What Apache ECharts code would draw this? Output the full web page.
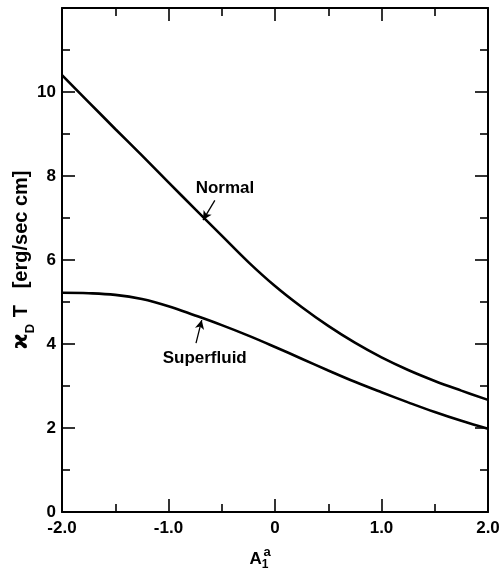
<!DOCTYPE html>
<html>
<head>
<meta charset="utf-8">
<script src="https://cdn.jsdelivr.net/npm/echarts@6/dist/echarts.min.js"></script>
<style>html,body{margin:0;padding:0;background:#fff;}#c{width:502px;height:571px;}</style>
</head>
<body>
<div id="c"></div>
<script>
// ---- data ----
const xValues      = [-2.0, -1.75, -1.5, -1.25, -1.0, -0.75, -0.5, -0.25, 0.0, 0.25, 0.5, 0.75, 1.0, 1.25, 1.5, 1.75, 2.0];
const normalVals   = [10.40, 9.76, 9.12, 8.49, 7.85, 7.21, 6.58, 5.95, 5.38, 4.88, 4.43, 4.03, 3.68, 3.38, 3.12, 2.89, 2.67];
const superVals    = [5.22, 5.21, 5.17, 5.07, 4.90, 4.68, 4.45, 4.20, 3.93, 3.65, 3.37, 3.10, 2.85, 2.61, 2.38, 2.17, 1.98];
const xTickLabels  = {'-2': '-2.0', '-1': '-1.0', '0': '0', '1': '1.0', '2': '2.0'};
const yTickLabels  = {'0': '0', '2': '2', '4': '4', '6': '6', '8': '8', '10': '10'};
// annotation anchors in data coordinates: [label pos, arrow tail, arrow tip]
const normalNote   = {text: 'Normal',     label: [-0.47, 7.71], tail: [-0.565, 7.42], tip: [-0.676, 6.95]};
const superNote    = {text: 'Superfluid', label: [-0.66, 3.66], tail: [-0.742, 4.02], tip: [-0.688, 4.57]};

const FONT = '"Liberation Sans", Arial, sans-serif';
const pairs = (ys) => xValues.map((x, i) => [x, ys[i]]);

function noteSeries(note) {
  return {
    type: 'line', data: [], silent: true,
    markLine: {
      silent: true, symbol: ['none', 'arrow'], symbolSize: [7, 9],
      lineStyle: {color: '#000', width: 1.3, type: 'solid'},
      label: {show: false},
      data: [[{coord: note.tail}, {coord: note.tip}]]
    },
    markPoint: {
      silent: true, symbol: 'circle', symbolSize: 1,
      itemStyle: {color: 'rgba(0,0,0,0)'},
      label: {show: true, position: 'inside', formatter: note.text, color: '#000',
              fontFamily: FONT, fontWeight: 'bold', fontSize: 17},
      data: [{coord: note.label}]
    }
  };
}

const axisLine = {show: true, onZero: false, lineStyle: {color: '#000', width: 2}};
const tick = {show: true, inside: true, length: 13, lineStyle: {color: '#000', width: 1.6}};
const minor = {show: true, splitNumber: 2, length: 8, lineStyle: {color: '#000', width: 1.6}};

const chart = echarts.init(document.getElementById('c'), null, {renderer: 'canvas'});
chart.setOption({
  animation: false,
  backgroundColor: '#fff',
  grid: {left: 62, right: 14, top: 8, bottom: 59, containLabel: false, outerBoundsMode: 'none'},
  xAxis: [{
    type: 'value', min: -2, max: 2, interval: 1, position: 'bottom',
    axisLine: axisLine, axisTick: tick, minorTick: minor, splitLine: {show: false},
    axisLabel: {color: '#000', fontFamily: FONT, fontWeight: 'bold', fontSize: 17, margin: 8,
                formatter: v => xTickLabels[String(Math.round(v))] ?? ''},
    name: '{sp|a}\n{a|A}{s|1}',
    nameLocation: 'middle', nameGap: 38, nameMoveOverlap: false,
    nameTextStyle: {
      padding: [0, 32, 0, 0],
      rich: {
        sp: {fontFamily: FONT, fontWeight: 'bold', fontSize: 13, color: '#000', lineHeight: 4, padding: [0, 0, 0, 16]},
        a: {fontFamily: FONT, fontWeight: 'bold', fontSize: 17, color: '#000', lineHeight: 10},
        s: {fontFamily: FONT, fontWeight: 'bold', fontSize: 12, color: '#000', lineHeight: 10, padding: [12, 0, 0, 0]}
      }
    }
  }, {
    type: 'value', min: -2, max: 2, interval: 1, position: 'top',
    axisLine: axisLine, axisTick: tick, minorTick: minor, splitLine: {show: false},
    axisLabel: {show: false}
  }],
  yAxis: [{
    type: 'value', min: 0, max: 12, interval: 2, position: 'left',
    axisLine: axisLine, axisTick: tick, minorTick: minor, splitLine: {show: false},
    axisLabel: {color: '#000', fontFamily: FONT, fontWeight: 'bold', fontSize: 17, margin: 6,
                formatter: v => yTickLabels[String(Math.round(v))] ?? ''},
    name: '{k|ϰ}{d|D}{t| T   [erg/sec cm]}',
    nameLocation: 'middle', nameGap: 30, nameRotate: 90, nameMoveOverlap: false,
    nameTextStyle: {
      rich: {
        k: {fontFamily: '"DejaVu Sans", sans-serif', fontWeight: 'bold', fontSize: 22, color: '#000'},
        d: {fontFamily: FONT, fontWeight: 'bold', fontSize: 13, color: '#000', verticalAlign: 'bottom', padding: [0, 1, -5, 0]},
        t: {fontFamily: FONT, fontWeight: 'bold', fontSize: 20, color: '#000'}
      }
    }
  }, {
    type: 'value', min: 0, max: 12, interval: 2, position: 'right',
    axisLine: axisLine, axisTick: tick, minorTick: minor, splitLine: {show: false},
    axisLabel: {show: false}
  }],
  series: [
    {name: 'Normal', type: 'line', data: pairs(normalVals), smooth: 0.4, showSymbol: false,
     lineStyle: {color: '#000', width: 2.6}},
    {name: 'Superfluid', type: 'line', data: pairs(superVals), smooth: 0.4, showSymbol: false,
     lineStyle: {color: '#000', width: 2.6}},
    noteSeries(normalNote),
    noteSeries(superNote)
  ]
});
</script>
</body>
</html>
